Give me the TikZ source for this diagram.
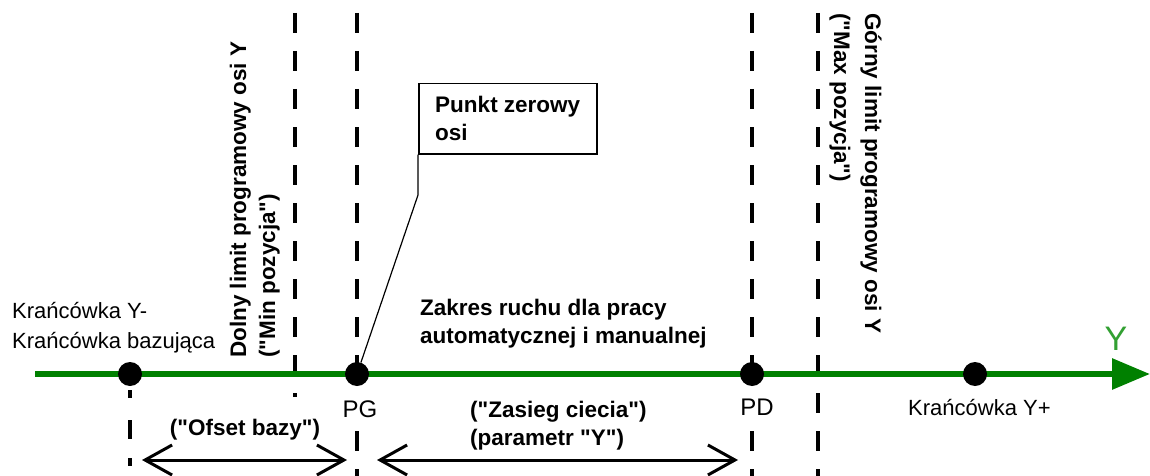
\documentclass[tikz,border=0pt]{standalone}
\usepackage{fontspec}
\setmainfont{Liberation Sans}
\newfontfamily\lib{Liberation Sans}
\usetikzlibrary{arrows.meta}
\definecolor{axisgreen}{RGB}{0,128,0}
\definecolor{ygreen}{RGB}{50,160,50}
\begin{document}
\begin{tikzpicture}[x=1pt,y=-1pt,
  dot/.style={circle,fill=black,minimum size=24pt,inner sep=0pt},
  guide/.style={line width=3.5pt,dash pattern=on 20pt off 18pt},
  normal/.style={font=\lib\fontsize{22}{28}\selectfont,inner sep=0pt},
  boldtxt/.style={font=\lib\fontsize{22.5}{28}\selectfont\bfseries,inner sep=0pt},
  pointlabel/.style={font=\lib\fontsize{24}{24}\selectfont,fill=white,inner xsep=1pt,inner ysep=7pt,anchor=base},
  dimarrow/.style={line width=3pt,{Straight Barb[length=27pt,width=30pt]}-{Straight Barb[length=27pt,width=30pt]}},
]
\useasboundingbox (0,0) rectangle (1150,476);

% guide lines
\coordinate (g1t) at (295,13);  \coordinate (g1b) at (295,397);
\coordinate (g2t) at (357,13);  \coordinate (g2b) at (357,476);
\coordinate (g3t) at (752,13);  \coordinate (g3b) at (752,476);
\coordinate (g4t) at (818,13);  \coordinate (g4b) at (818,476);
\coordinate (g0t) at (130,390); \coordinate (g0b) at (130,476);
\draw[guide] (g1t) -- (g1b);
\draw[guide] (g2t) -- (g2b);
\draw[guide] (g3t) -- (g3b);
\draw[guide] (g4t) -- (g4b);
\draw[guide,dash pattern=on 8pt off 22pt on 19pt off 19pt] (g0t) -- (g0b);

% axis
\coordinate (axs) at (35,374);
\coordinate (axe) at (1150,374);
\draw[axisgreen,line width=6pt,-{Triangle[length=38pt,width=30pt]}] (axs) -- (axe);
\node[font=\lib\fontsize{34}{34}\selectfont,text=ygreen,inner sep=0pt,anchor=base] (ylab) at (1116,350) {Y};

% dots
\node[dot] (kminus) at (130,374) {};
\node[dot] (pg) at (357,374) {};
\node[dot] (pd) at (752,374) {};
\node[dot] (kplus) at (975,374) {};

% labels
\node[normal,anchor=base west] (km1) at (12,318) {Krańcówka Y-};
\node[normal,anchor=base west] (km2) at (12,348) {Krańcówka bazująca};
\node[boldtxt,anchor=base west] (zr1) at (420,315) {Zakres ruchu dla pracy};
\node[boldtxt,anchor=base west] (zr2) at (420,343) {automatycznej i manualnej};
\node[pointlabel] (pgl) at (360,417) {PG};
\node[pointlabel] (pdl) at (757,415) {PD};
\node[normal,anchor=base west] (kpl) at (908,415) {Krańcówka Y+};
\node[boldtxt,anchor=base] (ofs) at (245,435) {("Ofset bazy")};
\node[boldtxt,anchor=base west] (zc1) at (470,417) {("Zasieg ciecia")};
\node[boldtxt,anchor=base west] (zc2) at (470,445) {(parametr "Y")};

% rotated labels
\node[boldtxt,rotate=90,anchor=base west] (dl1) at (246,358) {Dolny limit programowy osi Y};
\node[boldtxt,rotate=90,anchor=base west] (dl2) at (275,358) {("Min pozycja")};
\node[boldtxt,rotate=-90,anchor=base west] (gl1) at (865,13) {Górny limit programowy osi Y};
\node[boldtxt,rotate=-90,anchor=base west] (gl2) at (834,13) {("Max pozycja")};

% callout box
\node[boldtxt,draw,line width=1.5pt,align=left,minimum width=178pt,minimum height=70pt,anchor=north west] (box) at (418,83) {Punkt zerowy\\osi};
\coordinate (bend) at (418,195);
\draw[line width=1.2pt] (box.south west) -- (bend) -- (pg);

% dimension arrows
\coordinate (o1) at (142,460); \coordinate (o2) at (347,460);
\coordinate (z1) at (377,460); \coordinate (z2) at (738,460);
\draw[dimarrow] (o1) -- (o2);
\draw[dimarrow] (z1) -- (z2);
\end{tikzpicture}
\end{document}
